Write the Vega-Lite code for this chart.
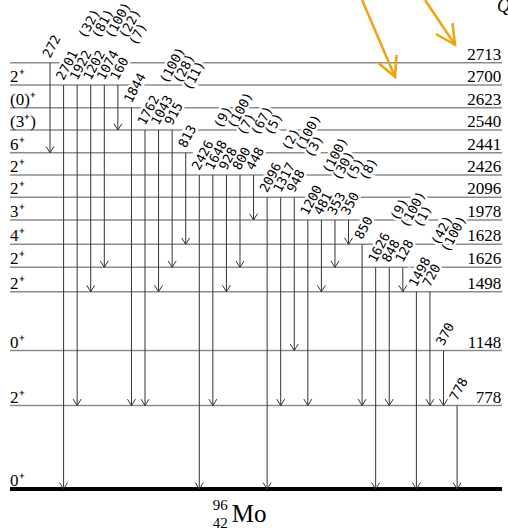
{
  "$schema": "https://vega.github.io/schema/vega-lite/v6.json",
  "width": 492,
  "height": 531,
  "autosize": "none",
  "padding": {"left": 10, "top": 0, "right": 6, "bottom": 0},
  "background": "white",
  "config": {"view": {"stroke": null}},
  "datasets": {
    "levels": [
      {"E": 0, "spin": "0⁺", "elabel": ""},
      {"E": 778, "spin": "2⁺", "elabel": "778"},
      {"E": 1148, "spin": "0⁺", "elabel": "1148"},
      {"E": 1498, "spin": "2⁺", "elabel": "1498"},
      {"E": 1626, "spin": "2⁺", "elabel": "1626"},
      {"E": 1628, "spin": "4⁺", "elabel": "1628"},
      {"E": 1978, "spin": "3⁺", "elabel": "1978"},
      {"E": 2096, "spin": "2⁺", "elabel": "2096"},
      {"E": 2426, "spin": "2⁺", "elabel": "2426"},
      {"E": 2441, "spin": "6⁺", "elabel": "2441"},
      {"E": 2540, "spin": "(3⁺)", "elabel": "2540"},
      {"E": 2623, "spin": "(0)⁺", "elabel": "2623"},
      {"E": 2700, "spin": "2⁺", "elabel": "2700"},
      {"E": 2713, "spin": "", "elabel": "2713"}
    ],
    "gammas": [
      {"col": 0, "from": 2713, "to": 2441, "label": "272"},
      {"col": 1, "from": 2700, "to": 0, "label": "2701\u00a0\u00a0(32)"},
      {"col": 2, "from": 2700, "to": 778, "label": "1922\u00a0\u00a0(81)"},
      {"col": 3, "from": 2700, "to": 1498, "label": "1202\u00a0\u00a0(100)"},
      {"col": 4, "from": 2700, "to": 1626, "label": "1074\u00a0\u00a0(22)"},
      {"col": 5, "from": 2700, "to": 2540, "label": "160\u00a0\u00a0(7)"},
      {"col": 6, "from": 2623, "to": 778, "label": "1844"},
      {"col": 7, "from": 2540, "to": 778, "label": "1762\u00a0\u00a0(100)"},
      {"col": 8, "from": 2540, "to": 1498, "label": "1043\u00a0\u00a0(28)"},
      {"col": 9, "from": 2540, "to": 1626, "label": "915\u00a0\u00a0(11)"},
      {"col": 10, "from": 2441, "to": 1628, "label": "813"},
      {"col": 11, "from": 2426, "to": 0, "label": "2426\u00a0\u00a0(9)"},
      {"col": 12, "from": 2426, "to": 778, "label": "1648\u00a0\u00a0(100)"},
      {"col": 13, "from": 2426, "to": 1498, "label": "928\u00a0\u00a0(7)"},
      {"col": 14, "from": 2426, "to": 1626, "label": "800\u00a0\u00a0(67)"},
      {"col": 15, "from": 2426, "to": 1978, "label": "448\u00a0\u00a0(5)"},
      {"col": 16, "from": 2096, "to": 0, "label": "2096\u00a0\u00a0(2)"},
      {"col": 17, "from": 2096, "to": 778, "label": "1317\u00a0\u00a0(100)"},
      {"col": 18, "from": 2096, "to": 1148, "label": "948\u00a0\u00a0(3)"},
      {"col": 19, "from": 1978, "to": 778, "label": "1200\u00a0\u00a0(100)"},
      {"col": 20, "from": 1978, "to": 1498, "label": "481\u00a0\u00a0(30)"},
      {"col": 21, "from": 1978, "to": 1626, "label": "353\u00a0\u00a0(5)"},
      {"col": 22, "from": 1978, "to": 1628, "label": "350\u00a0\u00a0(8)"},
      {"col": 23, "from": 1628, "to": 778, "label": "850"},
      {"col": 24, "from": 1626, "to": 0, "label": "1626\u00a0\u00a0(9)"},
      {"col": 25, "from": 1626, "to": 778, "label": "848\u00a0\u00a0(100)"},
      {"col": 26, "from": 1626, "to": 1498, "label": "128\u00a0\u00a0(1)"},
      {"col": 27, "from": 1498, "to": 0, "label": "1498\u00a0\u00a0(42)"},
      {"col": 28, "from": 1498, "to": 778, "label": "720\u00a0\u00a0(100)"},
      {"col": 29, "from": 1148, "to": 778, "label": "370"},
      {"col": 30, "from": 778, "to": 0, "label": "778"}
    ],
    "feeding": [
      {"id": "a", "x1": 23.0, "y1": 2800, "x2": 25.43, "y2": 2704.7},
      {"id": "b", "x1": 27.64, "y1": 2800, "x2": 29.85, "y2": 2737.9}
    ],
    "notes": [
      {"key": "Q", "col": 32.95, "E": 2713},
      {"key": "A", "col": 12.0, "E": 0},
      {"key": "Z", "col": 12.0, "E": 0},
      {"key": "El", "col": 13.4, "E": 0}
    ]
  },
  "layer": [
    {
      "data": {"name": "levels"},
      "transform": [{"filter": "datum.E > 0"}],
      "mark": {"type": "rule", "color": "#8c8c8c", "strokeWidth": 1.4},
      "encoding": {
        "y": {"field": "E", "type": "quantitative", "axis": null,
              "scale": {"domain": [0, 778, 1148, 1498, 1626, 1628, 1978, 2096, 2426, 2441, 2540, 2623, 2700, 2713, 2800],
                        "range": [489, 405.5, 350.5, 291.7, 267.3, 244.3, 220, 197.3, 175, 152.7, 130, 107.7, 85, 62.7, 0],
                        "zero": false, "nice": false}}
      }
    },
    {
      "data": {"name": "levels"},
      "transform": [{"filter": "datum.E == 0"}],
      "mark": {"type": "rule", "color": "#000000", "strokeWidth": 4},
      "encoding": {
        "y": {"field": "E", "type": "quantitative", "axis": null}
      }
    },
    {
      "data": {"name": "gammas"},
      "mark": {"type": "rule", "color": "#333333", "strokeWidth": 1},
      "encoding": {
        "x": {"field": "col", "type": "quantitative", "axis": null,
              "scale": {"domain": [-2.95, 33.31], "zero": false, "nice": false}},
        "y": {"field": "from", "type": "quantitative", "axis": null},
        "y2": {"field": "to"}
      }
    },
    {
      "data": {"name": "gammas"},
      "mark": {"type": "point", "shape": "M-1,-1.6L0,0L1,-1.6", "size": 64, "filled": false,
               "color": "#333333", "strokeWidth": 1, "opacity": 1},
      "encoding": {
        "x": {"field": "col", "type": "quantitative", "axis": null},
        "y": {"field": "to", "type": "quantitative", "axis": null}
      }
    },
    {
      "data": {"name": "gammas"},
      "mark": {"type": "text", "angle": 298, "align": "left", "baseline": "alphabetic",
               "dx": 3.5, "dy": -1.9, "font": "DejaVu Sans Mono", "fontSize": 13,
               "fill": "white", "stroke": "white", "strokeWidth": 5},
      "encoding": {
        "x": {"field": "col", "type": "quantitative", "axis": null},
        "y": {"field": "from", "type": "quantitative", "axis": null},
        "text": {"field": "label"}
      }
    },
    {
      "data": {"name": "gammas"},
      "mark": {"type": "text", "angle": 298, "align": "left", "baseline": "alphabetic",
               "dx": 3.5, "dy": -1.9, "font": "DejaVu Sans Mono", "fontSize": 13, "color": "#000000"},
      "encoding": {
        "x": {"field": "col", "type": "quantitative", "axis": null},
        "y": {"field": "from", "type": "quantitative", "axis": null},
        "text": {"field": "label"}
      }
    },
    {
      "data": {"name": "levels"},
      "mark": {"type": "text", "align": "left", "baseline": "alphabetic", "dy": -3,
               "font": "Liberation Serif", "fontSize": 17, "color": "#000000"},
      "encoding": {
        "x": {"datum": -2.95, "type": "quantitative", "axis": null},
        "y": {"field": "E", "type": "quantitative", "axis": null},
        "text": {"field": "spin"}
      }
    },
    {
      "data": {"name": "levels"},
      "mark": {"type": "text", "align": "right", "baseline": "alphabetic", "dy": -3,
               "font": "Liberation Serif", "fontSize": 17, "color": "#000000"},
      "encoding": {
        "x": {"datum": 33.25, "type": "quantitative", "axis": null},
        "y": {"field": "E", "type": "quantitative", "axis": null},
        "text": {"field": "elabel"}
      }
    },
    {
      "data": {"name": "feeding"},
      "mark": {"type": "rule", "color": "#F0A30A", "strokeWidth": 2.5},
      "encoding": {
        "x": {"field": "x1", "type": "quantitative", "axis": null},
        "x2": {"field": "x2"},
        "y": {"field": "y1", "type": "quantitative", "axis": null},
        "y2": {"field": "y2"}
      }
    },
    {
      "data": {"name": "feeding"},
      "transform": [{"filter": "datum.id == 'a'"}],
      "mark": {"type": "point", "shape": "M-0.95,-1.87L0,0L0.95,-1.87", "size": 400, "filled": false,
               "color": "#F0A30A", "strokeWidth": 2.5, "opacity": 1, "angle": 336.8, "strokeCap": "round"},
      "encoding": {
        "x": {"field": "x2", "type": "quantitative", "axis": null},
        "y": {"field": "y2", "type": "quantitative", "axis": null}
      }
    },
    {
      "data": {"name": "feeding"},
      "transform": [{"filter": "datum.id == 'b'"}],
      "mark": {"type": "point", "shape": "M-0.95,-1.87L0,0L0.95,-1.87", "size": 400, "filled": false,
               "color": "#F0A30A", "strokeWidth": 2.5, "opacity": 1, "angle": 326.3, "strokeCap": "round"},
      "encoding": {
        "x": {"field": "x2", "type": "quantitative", "axis": null},
        "y": {"field": "y2", "type": "quantitative", "axis": null}
      }
    },
    {
      "data": {"name": "notes"},
      "transform": [{"filter": "datum.key == 'Q'"}],
      "mark": {"type": "text", "align": "left", "baseline": "alphabetic", "dy": -51,
               "font": "Liberation Serif", "fontStyle": "italic", "fontSize": 18, "color": "#000000", "text": "Q"},
      "encoding": {
        "x": {"field": "col", "type": "quantitative", "axis": null},
        "y": {"field": "E", "type": "quantitative", "axis": null}
      }
    },
    {
      "data": {"name": "notes"},
      "transform": [{"filter": "datum.key == 'A'"}],
      "mark": {"type": "text", "align": "left", "baseline": "alphabetic", "dy": 21,
               "font": "Liberation Serif", "fontSize": 15, "color": "#000000", "text": "96"},
      "encoding": {
        "x": {"field": "col", "type": "quantitative", "axis": null},
        "y": {"field": "E", "type": "quantitative", "axis": null}
      }
    },
    {
      "data": {"name": "notes"},
      "transform": [{"filter": "datum.key == 'Z'"}],
      "mark": {"type": "text", "align": "left", "baseline": "alphabetic", "dy": 39,
               "font": "Liberation Serif", "fontSize": 15, "color": "#000000", "text": "42"},
      "encoding": {
        "x": {"field": "col", "type": "quantitative", "axis": null},
        "y": {"field": "E", "type": "quantitative", "axis": null}
      }
    },
    {
      "data": {"name": "notes"},
      "transform": [{"filter": "datum.key == 'El'"}],
      "mark": {"type": "text", "align": "left", "baseline": "alphabetic", "dy": 33,
               "font": "Liberation Serif", "fontSize": 25, "color": "#000000", "text": "Mo"},
      "encoding": {
        "x": {"field": "col", "type": "quantitative", "axis": null},
        "y": {"field": "E", "type": "quantitative", "axis": null}
      }
    }
  ]
}
